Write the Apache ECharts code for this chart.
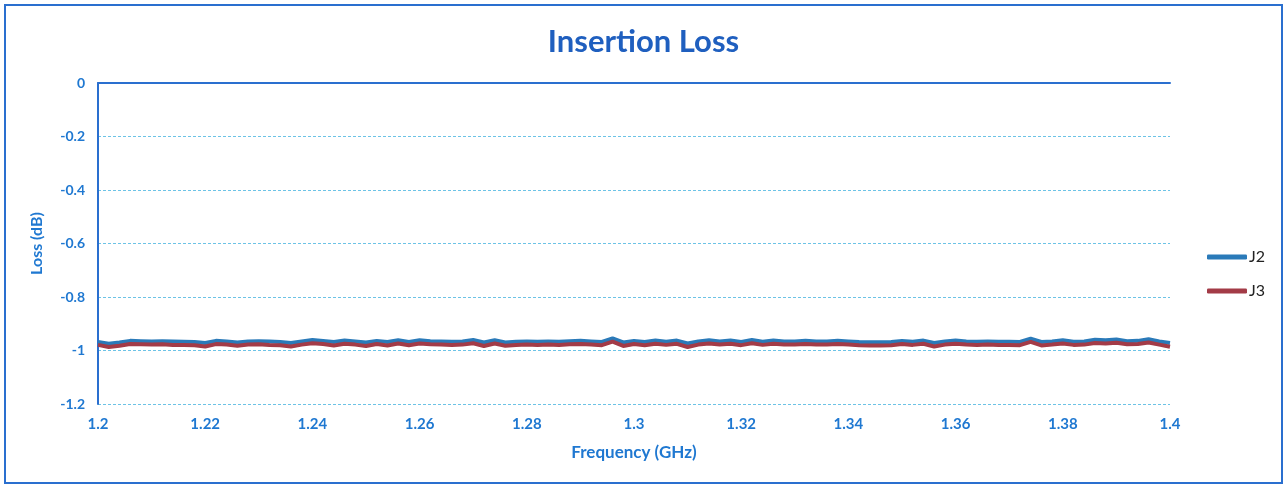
<!DOCTYPE html>
<html lang="en">
<head>
    <meta charset="UTF-8">
    <title>Insertion Loss</title>
    <script type="text/javascript" src="https://cdn.jsdelivr.net/npm/echarts@6/dist/echarts.min.js"></script>
    <style>
        html, body { margin: 0; padding: 0; background: #fff; }
    </style>
</head>
<body>
<div id="main" style="width: 1287px; height: 486px;"></div>

<script>
    // frequency points (GHz)
    var freq = [
        1.200, 1.202, 1.204, 1.206, 1.208, 1.210, 1.212, 1.214, 1.216, 1.218,
        1.220, 1.222, 1.224, 1.226, 1.228, 1.230, 1.232, 1.234, 1.236, 1.238,
        1.240, 1.242, 1.244, 1.246, 1.248, 1.250, 1.252, 1.254, 1.256, 1.258,
        1.260, 1.262, 1.264, 1.266, 1.268, 1.270, 1.272, 1.274, 1.276, 1.278,
        1.280, 1.282, 1.284, 1.286, 1.288, 1.290, 1.292, 1.294, 1.296, 1.298,
        1.300, 1.302, 1.304, 1.306, 1.308, 1.310, 1.312, 1.314, 1.316, 1.318,
        1.320, 1.322, 1.324, 1.326, 1.328, 1.330, 1.332, 1.334, 1.336, 1.338,
        1.340, 1.342, 1.344, 1.346, 1.348, 1.350, 1.352, 1.354, 1.356, 1.358,
        1.360, 1.362, 1.364, 1.366, 1.368, 1.370, 1.372, 1.374, 1.376, 1.378,
        1.380, 1.382, 1.384, 1.386, 1.388, 1.390, 1.392, 1.394, 1.396, 1.398,
        1.400
    ];

    // loss (dB)
    var j2 = [
        -0.968, -0.975, -0.970, -0.964, -0.965, -0.966, -0.965, -0.966, -0.967, -0.968,
        -0.972, -0.964, -0.966, -0.970, -0.966, -0.965, -0.966, -0.968, -0.972, -0.966,
        -0.961, -0.964, -0.968, -0.963, -0.966, -0.970, -0.964, -0.968, -0.962, -0.968,
        -0.962, -0.965, -0.966, -0.967, -0.966, -0.961, -0.970, -0.962, -0.970, -0.967,
        -0.966, -0.967, -0.966, -0.967, -0.965, -0.964, -0.966, -0.968, -0.955, -0.970,
        -0.964, -0.968, -0.963, -0.967, -0.963, -0.974, -0.966, -0.962, -0.966, -0.963,
        -0.968, -0.961, -0.967, -0.963, -0.966, -0.966, -0.964, -0.966, -0.966, -0.964,
        -0.966, -0.968, -0.969, -0.969, -0.968, -0.964, -0.967, -0.963, -0.972, -0.966,
        -0.963, -0.966, -0.967, -0.966, -0.967, -0.967, -0.968, -0.956, -0.968, -0.966,
        -0.962, -0.967, -0.966, -0.960, -0.962, -0.959, -0.965, -0.964, -0.958, -0.966,
        -0.972
    ];

    var j3 = [
        -0.979, -0.987, -0.982, -0.976, -0.977, -0.978, -0.977, -0.979, -0.979, -0.980,
        -0.985, -0.976, -0.978, -0.982, -0.978, -0.977, -0.979, -0.980, -0.985, -0.978,
        -0.973, -0.976, -0.981, -0.975, -0.978, -0.983, -0.976, -0.981, -0.974, -0.980,
        -0.974, -0.977, -0.978, -0.979, -0.978, -0.973, -0.983, -0.974, -0.982, -0.979,
        -0.978, -0.979, -0.978, -0.979, -0.977, -0.976, -0.978, -0.980, -0.967, -0.983,
        -0.976, -0.980, -0.975, -0.979, -0.975, -0.987, -0.978, -0.974, -0.978, -0.975,
        -0.980, -0.973, -0.979, -0.975, -0.978, -0.978, -0.976, -0.978, -0.978, -0.976,
        -0.978, -0.980, -0.981, -0.981, -0.980, -0.976, -0.979, -0.975, -0.985, -0.978,
        -0.975, -0.978, -0.979, -0.978, -0.979, -0.979, -0.980, -0.968, -0.981, -0.978,
        -0.974, -0.979, -0.978, -0.972, -0.974, -0.971, -0.977, -0.976, -0.970, -0.978,
        -0.986
    ];

    var seriesNames = ['J2', 'J3'];
    var seriesColors = ['#2a7ab9', '#a33b47'];

    function pairs(xs, ys) {
        var out = [];
        for (var i = 0; i < xs.length; i++) {
            out.push([xs[i], ys[i]]);
        }
        return out;
    }

    var myChart = echarts.init(document.getElementById('main'));

    var labelBlue = '#1f78d1';
    var fontName = 'Lato, "Open Sans", sans-serif';

    var option = {
        backgroundColor: '#fff',
        animation: false,
        color: seriesColors,
        title: {
            text: 'Insertion Loss',
            left: 'center',
            top: 21,
            textStyle: {
                color: '#1f5fbf',
                fontFamily: fontName,
                fontWeight: 'bold',
                fontSize: 31
            }
        },
        // 外框
        graphic: [{
            type: 'rect',
            shape: {x: 5, y: 5, width: 1277, height: 478},
            style: {fill: 'none', stroke: '#2a6fcf', lineWidth: 2},
            silent: true
        }],
        legend: {
            orient: 'vertical',
            left: 1207,
            top: 249,
            padding: 0,
            itemGap: 18,
            itemWidth: 40,
            itemHeight: 5,
            icon: 'roundRect',
            textStyle: {
                color: '#222',
                fontFamily: fontName,
                fontSize: 16,
                padding: [0, 0, 0, -3]
            },
            data: seriesNames
        },
        grid: {
            left: 98,
            right: 117,
            top: 83,
            bottom: 82
        },
        xAxis: [{
            type: 'value',
            min: 1.2,
            max: 1.4,
            interval: 0.02,
            position: 'bottom',
            name: 'Frequency (GHz)',
            nameLocation: 'middle',
            nameGap: 40,
            nameTextStyle: {
                color: labelBlue,
                fontFamily: fontName,
                fontWeight: 'bold',
                fontSize: 17
            },
            axisLine: {show: false, onZero: false},
            axisTick: {show: false},
            splitLine: {show: false},
            axisLabel: {
                margin: 13,
                color: labelBlue,
                fontFamily: fontName,
                fontWeight: 'bold',
                fontSize: 15,
                formatter: function (v) {
                    return String(Math.round(v * 100) / 100);
                }
            }
        }, {
            // line along 0 dB, like the original
            type: 'value',
            min: 1.2,
            max: 1.4,
            position: 'top',
            axisLine: {show: true, onZero: false, lineStyle: {color: '#2a6fcf', width: 2}},
            axisTick: {show: false},
            axisLabel: {show: false},
            splitLine: {show: false}
        }],
        yAxis: {
            type: 'value',
            min: -1.2,
            max: 0,
            interval: 0.2,
            name: 'Loss (dB)',
            nameLocation: 'middle',
            nameRotate: 90,
            nameGap: 53,
            nameTextStyle: {
                color: labelBlue,
                fontFamily: fontName,
                fontWeight: 'bold',
                fontSize: 16
            },
            axisLine: {show: true, lineStyle: {color: '#2a6fcf', width: 2}},
            axisTick: {show: false},
            axisLabel: {
                margin: 13,
                color: labelBlue,
                fontFamily: fontName,
                fontWeight: 'bold',
                fontSize: 14,
                formatter: function (v) {
                    return String(Math.round(v * 10) / 10);
                }
            },
            splitLine: {
                show: true,
                lineStyle: {color: '#6cc3e6', type: [3, 2], width: 1}
            }
        },
        series: [{
            name: seriesNames[0],
            type: 'line',
            symbol: 'none',
            smooth: false,
            lineStyle: {width: 4, color: seriesColors[0]},
            data: pairs(freq, j2)
        }, {
            name: seriesNames[1],
            type: 'line',
            symbol: 'none',
            smooth: false,
            lineStyle: {width: 4, color: seriesColors[1]},
            data: pairs(freq, j3)
        }]
    };

    myChart.setOption(option);
</script>
</body>
</html>
